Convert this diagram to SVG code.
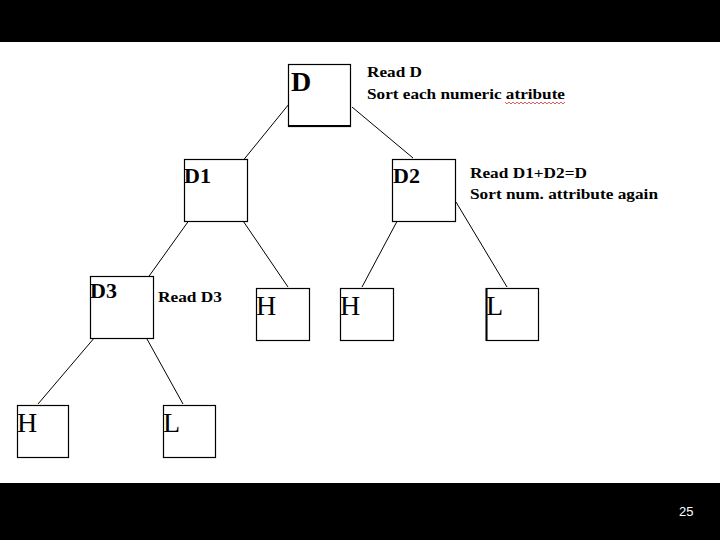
<svg xmlns="http://www.w3.org/2000/svg" width="720" height="540" viewBox="0 0 720 540">
<style>
.box{fill:#fff;stroke:#000;stroke-width:1.2}
.lbl{font-family:"Liberation Serif","Times New Roman",serif;font-weight:bold;fill:#000}
.leaf{font-family:"Liberation Serif","Times New Roman",serif;fill:#000;font-size:28px}
.note{font-family:"Liberation Serif","Times New Roman",serif;font-weight:bold;fill:#000;font-size:15.5px}
.conn line{stroke:#000;stroke-width:1}
</style>
<rect x="0" y="0" width="720" height="540" fill="#fff"/>
<rect x="0" y="0" width="720" height="42" fill="#000"/>
<rect x="0" y="483" width="720" height="57" fill="#000"/>
<g class="conn" id="connectors">
<line x1="289" y1="104" x2="237" y2="168"/>
<line x1="352" y1="107" x2="413" y2="158"/>
<line x1="195" y1="212" x2="142" y2="286"/>
<line x1="237" y1="212" x2="288" y2="287"/>
<line x1="402" y1="212" x2="362" y2="287"/>
<line x1="456" y1="202" x2="507" y2="287"/>
<line x1="101" y1="330" x2="38" y2="404"/>
<line x1="142" y1="330" x2="183" y2="404"/>
</g>
<g id="node-D">
<rect class="box" x="288.5" y="64.5" width="62" height="62"/>
<line x1="288" y1="126" x2="351" y2="126" stroke="#000" stroke-width="2"/>
<text class="lbl" x="291" y="91" font-size="28">D</text>
</g>
<g id="note-D">
<text class="note" x="367" y="77" textLength="55" lengthAdjust="spacingAndGlyphs">Read D</text>
<text class="note" x="367" y="99" textLength="198" lengthAdjust="spacingAndGlyphs">Sort each numeric atribute</text>
<path d="M505,102 l2,2 l2,-2 l2,2 l2,-2 l2,2 l2,-2 l2,2 l2,-2 l2,2 l2,-2 l2,2 l2,-2 l2,2 l2,-2 l2,2 l2,-2 l2,2 l2,-2 l2,2 l2,-2 l2,2 l2,-2 l2,2 l2,-2 l2,2 l2,-2 l2,2 l2,-2 l2,2 l2,-2" fill="none" stroke="#d33" stroke-width="0.8"/>
</g>
<g id="node-D1">
<rect class="box" x="184.5" y="159.5" width="63" height="62"/>
<text class="lbl" x="184" y="183" font-size="22">D1</text>
</g>
<g id="node-D2">
<rect class="box" x="392.5" y="159.5" width="63" height="62"/>
<text class="lbl" x="393" y="183" font-size="22">D2</text>
</g>
<g id="note-D2">
<text class="note" x="470" y="178" textLength="117" lengthAdjust="spacingAndGlyphs">Read D1+D2=D</text>
<text class="note" x="470" y="199" textLength="188" lengthAdjust="spacingAndGlyphs">Sort num. attribute again</text>
</g>
<g id="node-D3">
<rect class="box" x="90.5" y="276.5" width="63" height="62"/>
<text class="lbl" x="90" y="298" font-size="22">D3</text>
</g>
<g id="note-D3">
<text class="note" x="158" y="302" textLength="64" lengthAdjust="spacingAndGlyphs">Read D3</text>
</g>
<g id="node-H1">
<rect class="box" x="256.5" y="288.5" width="53" height="52"/>
<text class="leaf" x="256" y="315">H</text>
</g>
<g id="node-H2">
<rect class="box" x="340.5" y="288.5" width="53" height="52"/>
<text class="leaf" x="340" y="315">H</text>
</g>
<g id="node-L1">
<rect class="box" x="486.5" y="288.5" width="52" height="52"/>
<line x1="486.5" y1="288" x2="486.5" y2="341" stroke="#000" stroke-width="2"/>
<text class="leaf" x="486" y="315">L</text>
</g>
<g id="node-H3">
<rect class="box" x="17.5" y="405.5" width="51" height="52"/>
<text class="leaf" x="17" y="432">H</text>
</g>
<g id="node-L2">
<rect class="box" x="163.5" y="405.5" width="52" height="52"/>
<text class="leaf" x="163" y="432">L</text>
</g>
<text x="679" y="516" font-family="Liberation Sans,Arial,sans-serif" font-size="13" fill="#fff">25</text>
</svg>
